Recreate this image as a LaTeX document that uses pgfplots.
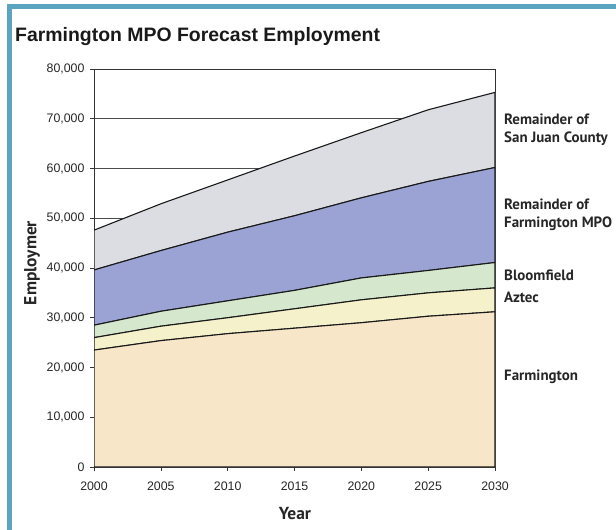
\documentclass[border=0pt]{standalone}
\usepackage{fontspec}
\setmainfont{Liberation Sans}
\newfontfamily\labfont{PT Sans}
\usepackage{pgfplots}
\pgfplotsset{compat=1.18}

\definecolor{frame}{HTML}{5CA5C0}
\definecolor{cFarm}{HTML}{F7E6C8}
\definecolor{cAztec}{HTML}{F5F1CA}
\definecolor{cBloom}{HTML}{D5E8CD}
\definecolor{cMPO}{HTML}{9AA3D3}
\definecolor{cSJ}{HTML}{DCDDE2}

\begin{document}
\begin{tikzpicture}[x=1bp,y=1bp]
  \path[use as bounding box] (0,0) rectangle (616,530);
  % frame
  \fill[frame] (7,521) rectangle (616,526);
  \fill[frame] (7,0) rectangle (12,526);

  \node[anchor=base west, inner sep=0pt, font=\fontsize{19.5}{23}\selectfont\bfseries, text=black!90] at (15,488)
    {Farmington MPO Forecast Employment};

  \begin{axis}[
      at={(94bp,63bp)}, anchor=south west,
      scale only axis, width=401bp, height=398bp,
      xmin=2000, xmax=2030, ymin=0, ymax=80000,
      xtick={2000,2005,...,2030},
      ytick={0,10000,...,80000},
      tick align=outside, tick pos=left,
      major tick length=4bp,
      ymajorgrids, grid style={black!70, line width=0.6pt},
      axis line style={black!80, line width=0.8pt},
      tick style={black!80, line width=0.6pt},
      scaled y ticks=false,
      /pgf/number format/.cd, 1000 sep={,}, assume math mode=true,
      /pgfplots/.cd,
      x tick label style={/pgf/number format/1000 sep={}},
      ticklabel style={font=\fontsize{12.4}{14}\selectfont, text=black!85},
      yticklabel style={xshift=-2bp},
      xticklabel style={yshift=-7bp},
      stack plots=y,
      every axis plot/.append style={draw=black!90, line width=1.1pt},
    ]
    \addplot[fill=cFarm] coordinates {
      (2000,23500) (2005,25400) (2010,26800) (2015,27900) (2020,29000) (2025,30300) (2030,31200)
    } \closedcycle;
    \addplot[fill=cAztec] coordinates {
      (2000,2500) (2005,2900) (2010,3200) (2015,3900) (2020,4600) (2025,4700) (2030,4800)
    } \closedcycle;
    \addplot[fill=cBloom] coordinates {
      (2000,2500) (2005,3000) (2010,3400) (2015,3700) (2020,4400) (2025,4500) (2030,5100)
    } \closedcycle;
    \addplot[fill=cMPO] coordinates {
      (2000,11100) (2005,12200) (2010,13800) (2015,15000) (2020,16100) (2025,17900) (2030,19100)
    } \closedcycle;
    \addplot[fill=cSJ] coordinates {
      (2000,8000) (2005,9400) (2010,10500) (2015,12000) (2020,13100) (2025,14400) (2030,15100)
    } \closedcycle;
  \end{axis}

  \begin{scope}[every node/.style={anchor=west, align=left, inner sep=0pt,
      font=\labfont\fontsize{15}{18}\selectfont\bfseries, text=black!85}]
    \node at (504,400) {Remainder of\\San Juan County};
    \node at (504,315) {Remainder of\\Farmington MPO};
    \node at (504,255) {Bloomfield};
    \node at (504,233) {Aztec};
    \node at (504,153) {Farmington};
  \end{scope}

  \node[rotate=90, font=\labfont\fontsize{17.5}{20}\selectfont\bfseries, text=black!85] at (32,267) {Employmer};
  \node[font=\labfont\fontsize{17.5}{20}\selectfont\bfseries, text=black!85] at (295,16) {Year};
\end{tikzpicture}
\end{document}
